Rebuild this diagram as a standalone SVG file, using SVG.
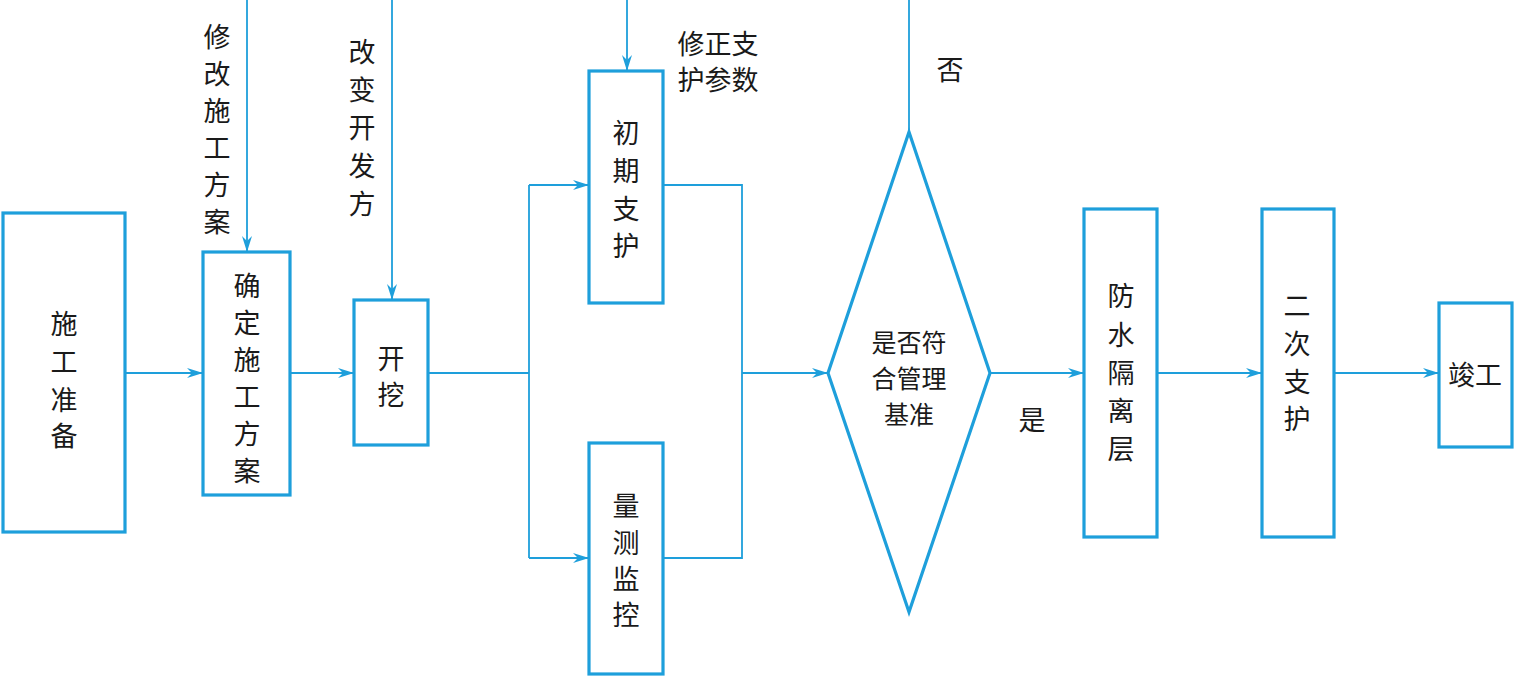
<svg xmlns="http://www.w3.org/2000/svg" width="1514" height="677" viewBox="0 0 1514 677">
<style>
.box{fill:#fff;stroke:#1e9fdb;stroke-width:3.2}
.ln{fill:none;stroke:#1e9fdb;stroke-width:1.8}
.t{font-family:"Noto Sans CJK SC","Noto Sans",sans-serif;font-size:27px;fill:#1a1a1a;text-anchor:middle;dominant-baseline:central}
.s{font-size:25px}
</style>
<defs>
<marker id="ah" markerWidth="16" markerHeight="10" refX="15" refY="5" orient="auto" markerUnits="userSpaceOnUse">
<path d="M0,0 L16,5 L0,10 L5,5 Z" fill="#1e9fdb"/>
</marker>
</defs>
<rect width="1514" height="677" fill="#fff"/>
<g id="connectors">
<line class="ln" x1="125" y1="373" x2="202" y2="373" marker-end="url(#ah)"/>
<line class="ln" x1="290" y1="373" x2="353" y2="373" marker-end="url(#ah)"/>
<line class="ln" x1="247" y1="0" x2="247" y2="251" marker-end="url(#ah)"/>
<line class="ln" x1="392" y1="0" x2="392" y2="299" marker-end="url(#ah)"/>
<line class="ln" x1="627" y1="0" x2="627" y2="70" marker-end="url(#ah)"/>
<polyline class="ln" points="428,373 529,373"/>
<polyline class="ln" points="529,185 529,558"/>
<line class="ln" x1="529" y1="185" x2="588" y2="185" marker-end="url(#ah)"/>
<line class="ln" x1="529" y1="558" x2="588" y2="558" marker-end="url(#ah)"/>
<polyline class="ln" points="663,185 742,185 742,558 663,558"/>
<line class="ln" x1="742" y1="373" x2="827" y2="373" marker-end="url(#ah)"/>
<line class="ln" x1="909" y1="0" x2="909" y2="132"/>
<line class="ln" x1="990" y1="373" x2="1083" y2="373" marker-end="url(#ah)"/>
<line class="ln" x1="1157" y1="373" x2="1261" y2="373" marker-end="url(#ah)"/>
<line class="ln" x1="1334" y1="373" x2="1438" y2="373" marker-end="url(#ah)"/>
<text class="t"><tspan x="217" y="35">修</tspan><tspan x="217" y="72">改</tspan><tspan x="217" y="109">施</tspan><tspan x="217" y="146">工</tspan><tspan x="217" y="183">方</tspan><tspan x="217" y="220">案</tspan></text>
<text class="t"><tspan x="362" y="50">改</tspan><tspan x="362" y="88">变</tspan><tspan x="362" y="126">开</tspan><tspan x="362" y="164">发</tspan><tspan x="362" y="202">方</tspan></text>
<text class="t"><tspan x="718" y="42">修正支</tspan><tspan x="718" y="78">护参数</tspan></text>
<text class="t" x="950" y="68">否</text>
<text class="t" x="1032" y="418">是</text>
</g>
<g id="n1"><rect class="box" x="3" y="213" width="122" height="319"/>
<text class="t"><tspan x="64" y="322">施</tspan><tspan x="64" y="360">工</tspan><tspan x="64" y="398">准</tspan><tspan x="64" y="434">备</tspan></text></g>
<g id="n2"><rect class="box" x="203" y="252" width="87" height="243"/>
<text class="t"><tspan x="247" y="284">确</tspan><tspan x="247" y="321">定</tspan><tspan x="247" y="358">施</tspan><tspan x="247" y="395">工</tspan><tspan x="247" y="432">方</tspan><tspan x="247" y="469">案</tspan></text></g>
<g id="n3"><rect class="box" x="354" y="300" width="74" height="145"/>
<text class="t"><tspan x="391" y="357">开</tspan><tspan x="391" y="393">挖</tspan></text></g>
<g id="n4"><rect class="box" x="589" y="71" width="74" height="232"/>
<text class="t"><tspan x="626" y="131">初</tspan><tspan x="626" y="169">期</tspan><tspan x="626" y="207">支</tspan><tspan x="626" y="244">护</tspan></text></g>
<g id="n5"><rect class="box" x="589" y="443" width="74" height="231"/>
<text class="t"><tspan x="626" y="504">量</tspan><tspan x="626" y="541">测</tspan><tspan x="626" y="577">监</tspan><tspan x="626" y="613">控</tspan></text></g>
<g id="n6"><polygon class="box" points="909,132 990,373 909,612 828,373"/>
<text class="t s"><tspan x="909" y="341">是否符</tspan><tspan x="909" y="377">合管理</tspan><tspan x="909" y="413">基准</tspan></text></g>
<g id="n7"><rect class="box" x="1084" y="209" width="73" height="328"/>
<text class="t"><tspan x="1121" y="294">防</tspan><tspan x="1121" y="333">水</tspan><tspan x="1121" y="371">隔</tspan><tspan x="1121" y="409">离</tspan><tspan x="1121" y="447">层</tspan></text></g>
<g id="n8"><rect class="box" x="1262" y="209" width="72" height="328"/>
<text class="t"><tspan x="1297" y="304">二</tspan><tspan x="1297" y="342">次</tspan><tspan x="1297" y="380">支</tspan><tspan x="1297" y="417">护</tspan></text></g>
<g id="n9"><rect class="box" x="1439" y="303" width="73" height="144"/>
<text class="t" x="1475" y="373">竣工</text></g>
</svg>
